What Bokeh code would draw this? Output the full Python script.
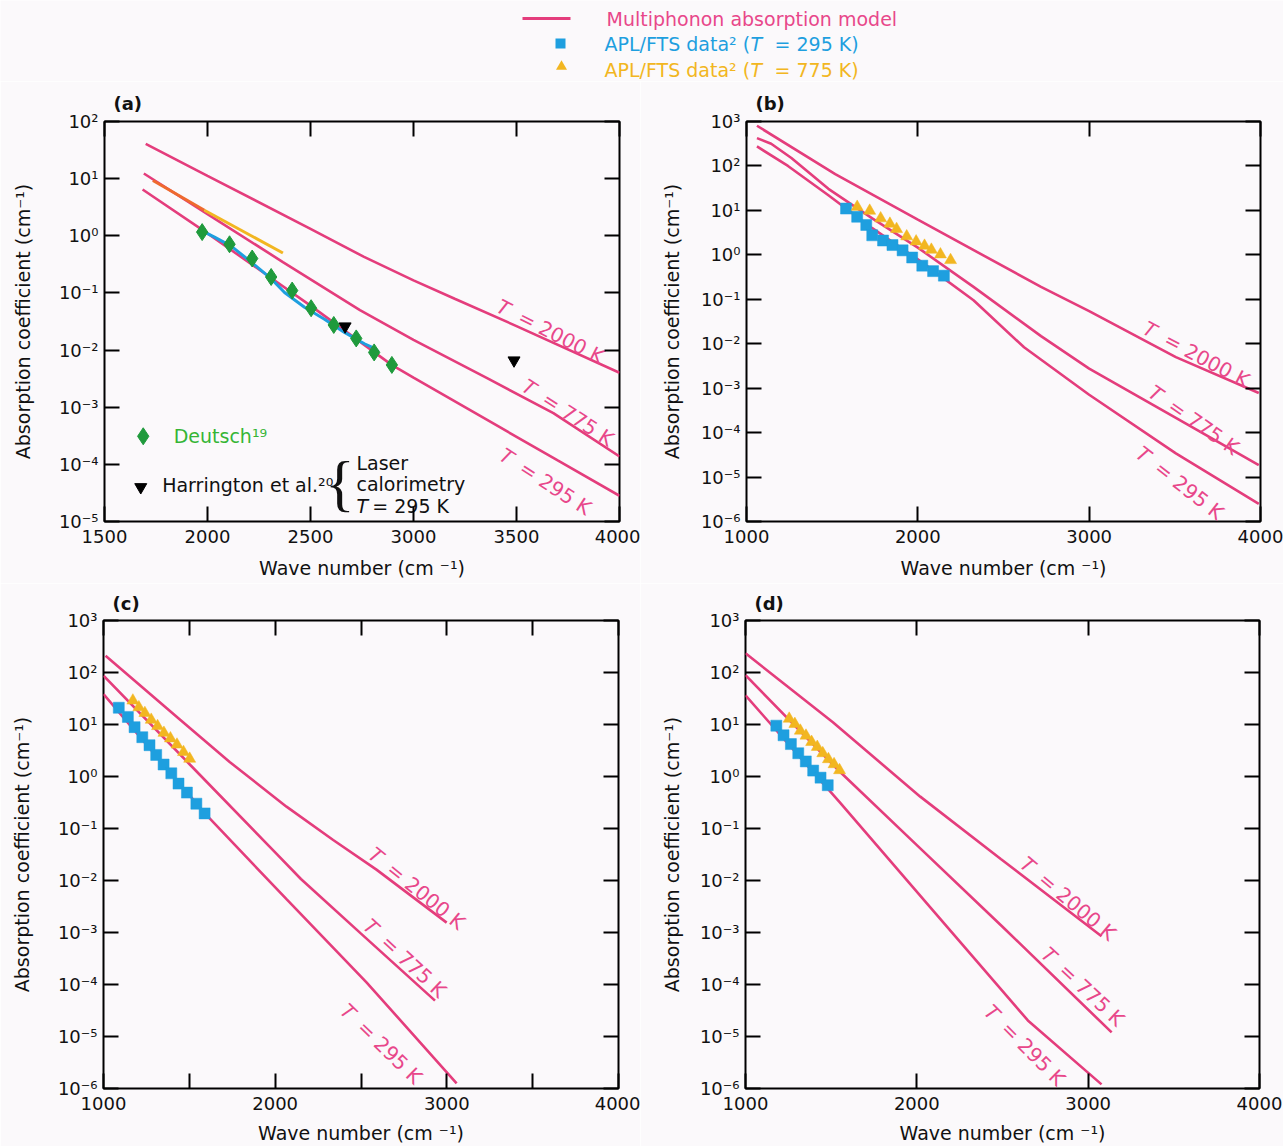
import math
import numpy as np
from bokeh.plotting import figure
from bokeh.models import Range1d, FixedTicker, LinearAxis, LogAxis, CustomJSTickFormatter
from bokeh.layouts import column, row
from bokeh.embed import file_html
from bokeh.resources import INLINE
from bokeh.core.properties import value

FONT = "DejaVu Sans"
PINK = "#E43D7C"
PINK_TXT = "#E8478A"
BLUE = "#1E9FDF"
YELLOW = "#F2B621"
ORANGE = "#EE6A2E"
GREEN = "#1F9A3C"
GREEN_TXT = "#35B535"
BG = "#FBF9FB"

# ---------------- data (wave number in cm^-1, absorption coefficient in cm^-1) ----------------
# Panel (a)
a_wn_2000 = [1700, 2000, 2500, 2760, 3000, 3200, 3500, 4000]
a_k_2000 = [40.7, 11.2, 1.32, 0.427, 0.166, 0.079, 0.0263, 0.0040]
a_wn_775 = [1691, 2000, 2366, 2740, 3000, 3362, 3679, 4000]
a_k_775 = [12.3, 2.4, 0.347, 0.050, 0.0151, 0.00316, 0.00079, 0.000138]
a_wn_295 = [1685, 2000, 2500, 2894, 3000, 3400, 3700, 4000]
a_k_295 = [6.46, 1.10, 0.060, 0.0055, 0.0033, 0.00049, 0.000117, 0.0000282]
a_fit_wn = [1969, 2034, 2115, 2212, 2309, 2374, 2471, 2568, 2665, 2762, 2800, 2831]
a_fit_k = [1.24, 0.95, 0.66, 0.347, 0.178, 0.102, 0.056, 0.0347, 0.0204, 0.0129, 0.0112, 0.0093]
a_hot_wn = [1735, 1985, 2366]
a_hot_k = [9.3, 2.8, 0.50]
deutsch_wn = [1974, 2107, 2217, 2309, 2411, 2503, 2613, 2722, 2809, 2895]
deutsch_k = [1.16, 0.71, 0.40, 0.19, 0.11, 0.054, 0.0275, 0.016, 0.0091, 0.0055]
harr_wn = [2668, 3488]
harr_k = [0.026, 0.0066]

# Panel (b)
b_wn_2000 = [1061, 1518, 2000, 2719, 3000, 3506, 3990]
b_k_2000 = [803, 65.5, 6.2, 0.19, 0.054, 0.0050, 0.00078]
b_wn_775 = [1061, 1144, 1262, 1478, 1734, 2000, 2325, 2719, 3000, 3506, 3990]
b_k_775 = [422, 316, 151, 30.5, 6.6, 1.45, 0.19, 0.0148, 0.00275, 0.000214, 0.0000186]
b_wn_295 = [1061, 1242, 1478, 1734, 2000, 2325, 2620, 3000, 3506, 3990]
b_k_295 = [275, 100, 21.9, 3.98, 0.79, 0.095, 0.0083, 0.00071, 0.000034, 0.0000025]
b_sq_wn = [1581, 1646, 1699, 1734, 1797, 1852, 1911, 1967, 2026, 2089, 2152]
b_sq_k = [11, 7.2, 4.7, 2.75, 2.1, 1.66, 1.26, 0.87, 0.57, 0.43, 0.34]
b_tri_wn = [1646, 1719, 1783, 1837, 1876, 1935, 1990, 2039, 2079, 2132, 2191]
b_tri_k = [12, 9.8, 6.6, 5.0, 3.8, 2.6, 2.0, 1.6, 1.3, 1.02, 0.76]

# Panel (c)
c_wn_2000 = [1012, 1443, 1735, 2066, 2338, 2590, 2999]
c_k_2000 = [209, 12.6, 1.9, 0.263, 0.060, 0.0162, 0.00155]
c_wn_775 = [1000, 1500, 2000, 2150, 2500, 2931]
c_k_775 = [87, 1.74, 0.0347, 0.0107, 0.00095, 0.000049]
c_wn_295 = [1000, 1599, 2066, 2532, 3057]
c_k_295 = [38.5, 0.182, 0.00437, 0.00011, 0.00000126]
c_sq_wn = [1089, 1142, 1181, 1226, 1268, 1307, 1350, 1395, 1437, 1486, 1541, 1589]
c_sq_k = [21, 14, 8.9, 5.7, 4.0, 2.6, 1.7, 1.15, 0.73, 0.49, 0.30, 0.195]
c_tri_wn = [1171, 1206, 1241, 1278, 1315, 1352, 1390, 1428, 1466, 1502]
c_tri_k = [28.8, 21.4, 16.6, 12.3, 9.3, 6.9, 5.4, 4.1, 2.95, 2.19]

# Panel (d)
d_wn_2000 = [1000, 1510, 2020, 2490, 3078]
d_k_2000 = [234, 11.0, 0.41, 0.026, 0.00085]
d_wn_775 = [1000, 1548, 2000, 2500, 3137]
d_k_775 = [89, 1.26, 0.048, 0.00129, 0.000012]
d_wn_295 = [1000, 1548, 2100, 2648, 3078]
d_k_295 = [36.3, 0.324, 0.00251, 0.0000204, 0.0000012]
d_sq_wn = [1180, 1222, 1265, 1308, 1352, 1395, 1438, 1480]
d_sq_k = [9.5, 6.2, 4.2, 2.8, 1.95, 1.3, 0.95, 0.68]
d_tri_wn = [1255, 1288, 1320, 1353, 1386, 1419, 1451, 1484, 1517, 1549]
d_tri_k = [12.9, 10.2, 7.6, 6.1, 4.6, 3.7, 2.8, 2.15, 1.72, 1.32]

# curve labels: (wave number at label start, fixed k or None = just above its curve, curve index, text, angle deg)
a_labels = [(3385, None, 0, "= 2000 K", -27), (3505, None, 1, "= 775 K", -33), (3427, 0.000158, 2, "= 295 K", -33)]
b_labels = [(3290, None, 0, "= 2000 K", -28), (3320, None, 1, "= 775 K", -35), (3288, 0.000039, 2, "= 295 K", -38)]
c_labels = [(2515, None, 0, "= 2000 K", -39), (2485, None, 1, "= 775 K", -43), (2398, 0.000036, 2, "= 295 K", -44)]
d_labels = [(2575, None, 0, "= 2000 K", -40), (2698, None, 1, "= 775 K", -43), (2414, 0.000035, 2, "= 295 K", -45)]

SUP = CustomJSTickFormatter(code="""
const m = {'-':'\u207b','0':'\u2070','1':'\u00b9','2':'\u00b2','3':'\u00b3','4':'\u2074','5':'\u2075','6':'\u2076','7':'\u2077','8':'\u2078','9':'\u2079'};
const e = Math.round(Math.log10(tick));
return '10' + String(e).split('').map(c => m[c]).join('');
""")


def blank():
    return CustomJSTickFormatter(code="return '';")


def make_panel(tag, width, height, xr, yr, bl, br, bt, bb, xticks, xminor, yticks,
               ylab_standoff, xtick_standoff, xlab_standoff, title_standoff):
    p = figure(width=width, height=height, x_range=Range1d(*xr), y_range=Range1d(*yr),
               y_axis_type="log", output_backend="svg", toolbar_location=None,
               min_border_left=bl, min_border_right=br, min_border_top=bt, min_border_bottom=bb,
               background_fill_color=BG, border_fill_color=BG,
               outline_line_color="black", outline_line_width=2)
    p.title.text = tag
    p.title.align = "left"
    p.title.offset = 9
    p.title.standoff = title_standoff
    p.title.text_font = FONT
    p.title.text_font_size = "18px"
    p.title.text_font_style = "bold"
    p.title.text_color = "#111111"
    p.grid.visible = False
    xa = p.xaxis[0]
    xa.ticker = FixedTicker(ticks=xticks, minor_ticks=xminor)
    ya = p.yaxis[0]
    ya.ticker = FixedTicker(ticks=yticks, minor_ticks=[])
    ya.formatter = SUP
    xa.axis_label = "Wave number (cm \u207b\u00b9)"
    ya.axis_label = "Absorption coefficient (cm\u207b\u00b9)"
    for ax in (xa, ya):
        ax.axis_line_color = None
        ax.major_tick_in = 15
        ax.major_tick_out = 0
        ax.minor_tick_in = 15
        ax.minor_tick_out = 0
        ax.major_tick_line_width = 2
        ax.minor_tick_line_width = 2
        ax.major_tick_line_color = "black"
        ax.minor_tick_line_color = "black"
        ax.major_label_text_font = FONT
        ax.major_label_text_font_size = "18px"
        ax.major_label_text_color = "#111111"
        ax.axis_label_text_font = FONT
        ax.axis_label_text_font_size = "19px"
        ax.axis_label_text_font_style = "normal"
        ax.axis_label_text_color = "#111111"
    xa.major_label_standoff = xtick_standoff
    ya.major_label_standoff = 6
    ya.axis_label_standoff = ylab_standoff
    xa.axis_label_standoff = xlab_standoff

    top = LinearAxis(ticker=FixedTicker(ticks=xticks, minor_ticks=xminor), formatter=blank())
    right = LogAxis(ticker=FixedTicker(ticks=yticks, minor_ticks=[]), formatter=blank())
    for ax in (top, right):
        ax.axis_line_color = None
        ax.major_tick_in = 15
        ax.major_tick_out = 0
        ax.minor_tick_in = 15
        ax.minor_tick_out = 0
        ax.major_tick_line_width = 2
        ax.minor_tick_line_width = 2
        ax.major_label_standoff = 0
        ax.major_label_text_font_size = "1px"
    p.add_layout(top, "above")
    p.add_layout(right, "right")
    return p


def model_lines(p, curves):
    for wn, k in curves:
        p.line(wn, k, line_color=PINK, line_width=2.6)


def curve_labels(p, labels, curves):
    for wn, k, ci, rest, ang in labels:
        a = math.radians(-ang)
        if k is None:
            cw, ck = curves[ci]
            k = 10 ** float(np.interp(wn, cw, np.log10(ck)))
            h = 12
            nx, ny = h * math.sin(a), -h * math.cos(a)
        else:
            nx, ny = 0.0, 0.0
        p.text(x=[wn], y=[k], text=["T"], angle=ang, angle_units="deg",
               x_offset=nx, y_offset=ny,
               text_font=value(FONT), text_font_style="italic", text_font_size="20px",
               text_color=PINK_TXT, text_align="left", text_baseline="middle")
        d = 24
        p.text(x=[wn], y=[k], text=[rest], angle=ang, angle_units="deg",
               x_offset=nx + d * math.cos(a), y_offset=ny + d * math.sin(a),
               text_font=value(FONT), text_font_size="20px",
               text_color=PINK_TXT, text_align="left", text_baseline="middle")


def data_points(p, sq_wn, sq_k, tri_wn, tri_k):
    p.scatter(sq_wn, sq_k, marker="square", size=11, fill_color=BLUE, line_color=BLUE, line_width=0.5)
    p.scatter(tri_wn, tri_k, marker="triangle", size=12, fill_color=YELLOW, line_color=YELLOW, line_width=0.5)


# ---------------- legend strip ----------------
LEG_H = 81
leg = figure(width=1283, height=LEG_H, x_range=Range1d(0, 1283), y_range=Range1d(LEG_H, 0),
             output_backend="svg", toolbar_location=None, min_border=0,
             background_fill_color=BG, border_fill_color=BG, outline_line_color=None)
leg.axis.visible = False
leg.grid.visible = False
leg.line([522, 570], [18, 18], line_color=PINK, line_width=3)
leg.scatter([560], [43], marker="square", size=10, fill_color=BLUE, line_color=None)
leg.scatter([561], [66], marker="triangle", size=11, fill_color=YELLOW, line_color=None)
leg.text([606], [18], text=["Multiphonon absorption model"], text_font=value(FONT), text_font_size="19px",
         text_color=PINK_TXT, text_baseline="middle")
for yy, col, temp in ((43, BLUE, "295 K)"), (69, YELLOW, "775 K)")):
    leg.text([604], [yy], text=["APL/FTS data\u00b2 ("], text_font=value(FONT), text_font_size="19px",
             text_color=col, text_baseline="middle")
    leg.text([750], [yy], text=["T"], text_font=value(FONT), text_font_style="italic", text_font_size="19px",
             text_color=col, text_baseline="middle")
    leg.text([774], [yy], text=["=  " + temp], text_font=value(FONT), text_font_size="19px",
             text_color=col, text_baseline="middle")

# ---------------- panel (a) ----------------
pa = make_panel("(a)", 640, 502, (1500, 4000), (1e-5, 1e2), 104, 21, 40, 62,
                [1500, 2000, 2500, 3000, 3500, 4000], [], [10.0 ** e for e in range(-5, 3)], 22, 8, 11, 16)
a_curves = [(a_wn_2000, a_k_2000), (a_wn_775, a_k_775), (a_wn_295, a_k_295)]
model_lines(pa, a_curves)
pa.line(a_hot_wn[:2], a_hot_k[:2], line_color=ORANGE, line_width=3)
pa.line(a_hot_wn[1:], a_hot_k[1:], line_color=YELLOW, line_width=3)
pa.line(a_fit_wn, a_fit_k, line_color=BLUE, line_width=3)
pa.scatter(deutsch_wn, deutsch_k, marker="diamond", size=17, fill_color=GREEN, line_color=GREEN)
pa.scatter(harr_wn, harr_k, marker="inverted_triangle", size=12, fill_color="black", line_color="black")
curve_labels(pa, a_labels, a_curves)
# inset key of panel (a)
pa.scatter([1688], [3.1e-4], marker="diamond", size=17, fill_color=GREEN, line_color=GREEN)
pa.text([1836], [3.1e-4], text=["Deutsch\u00b9\u2079"], text_font=value(FONT), text_font_size="19px",
        text_color=GREEN_TXT, text_baseline="middle")
pa.scatter([1676], [4.0e-5], marker="inverted_triangle", size=12, fill_color="black", line_color="black")
pa.text([1780], [4.3e-5], text=["Harrington et al.\u00b2\u2070"], text_font=value(FONT), text_font_size="19px",
        text_color="#111111", text_baseline="middle")
pa.text([2715], [4.7e-5], text=["{"], text_font=value("Liberation Serif"), text_font_size="62px",
        text_color="#111111", text_baseline="middle", text_align="right")
pa.text([2723], [1.07e-4], text=["Laser"], text_font=value(FONT), text_font_size="19px",
        text_color="#111111", text_baseline="middle")
pa.text([2723], [4.6e-5], text=["calorimetry"], text_font=value(FONT), text_font_size="19px",
        text_color="#111111", text_baseline="middle")
pa.text([2723], [1.9e-5], text=["T"], text_font=value(FONT), text_font_style="italic", text_font_size="19px",
        text_color="#111111", text_baseline="middle")
pa.text([2800], [1.9e-5], text=["= 295 K"], text_font=value(FONT), text_font_size="19px",
        text_color="#111111", text_baseline="middle")

# ---------------- panel (b) ----------------
pb = make_panel("(b)", 643, 502, (1000, 4000), (1e-6, 1e3), 106, 23, 40, 62,
                [1000, 2000, 3000, 4000], [], [10.0 ** e for e in range(-6, 4)], 15, 8, 11, 16)
b_curves = [(b_wn_2000, b_k_2000), (b_wn_775, b_k_775), (b_wn_295, b_k_295)]
model_lines(pb, b_curves)
data_points(pb, b_sq_wn, b_sq_k, b_tri_wn, b_tri_k)
curve_labels(pb, b_labels, b_curves)

# ---------------- panel (c) ----------------
pc = make_panel("(c)", 640, 563, (1000, 4000), (1e-6, 1e3), 103, 22, 37, 58,
                [1000, 2000, 3000, 4000], [1500, 2500, 3500], [10.0 ** e for e in range(-6, 4)], 22, 8, 9, 13)
c_curves = [(c_wn_2000, c_k_2000), (c_wn_775, c_k_775), (c_wn_295, c_k_295)]
model_lines(pc, c_curves)
data_points(pc, c_sq_wn, c_sq_k, c_tri_wn, c_tri_k)
curve_labels(pc, c_labels, c_curves)

# ---------------- panel (d) ----------------
pd_ = make_panel("(d)", 643, 563, (1000, 4000), (1e-6, 1e3), 105, 24, 37, 58,
                 [1000, 2000, 3000, 4000], [], [10.0 ** e for e in range(-6, 4)], 14, 8, 9, 13)
d_curves = [(d_wn_2000, d_k_2000), (d_wn_775, d_k_775), (d_wn_295, d_k_295)]
model_lines(pd_, d_curves)
data_points(pd_, d_sq_wn, d_sq_k, d_tri_wn, d_tri_k)
curve_labels(pd_, d_labels, d_curves)

layout = column(leg, row(pa, pb), row(pc, pd_))
open("out.html", "w").write(file_html(layout, INLINE))
